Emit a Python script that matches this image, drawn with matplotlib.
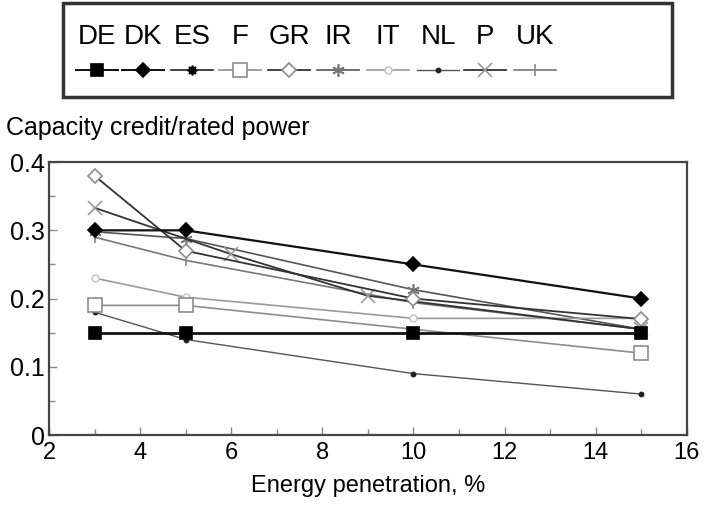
import matplotlib
matplotlib.use("Agg")
import matplotlib.pyplot as plt
from matplotlib.patches import Rectangle

plt.rcParams['font.family'] = ['Liberation Sans', 'DejaVu Sans']

# capacity credit vs energy penetration per country
countries = ['DE', 'DK', 'ES', 'F', 'GR', 'IR', 'IT', 'NL', 'P', 'UK']

de_x = [3, 5, 10, 15]
de_y = [0.15, 0.15, 0.15, 0.15]
dk_x = [3, 5, 10, 15]
dk_y = [0.30, 0.30, 0.25, 0.20]
es_x = [3]
es_y = [0.30]
f_x = [3, 5, 15]
f_y = [0.19, 0.19, 0.12]
gr_x = [3, 5, 10, 15]
gr_y = [0.38, 0.27, 0.20, 0.17]
ir_x = [3, 5, 10, 15]
ir_y = [0.298, 0.288, 0.213, 0.155]
it_x = [3, 5, 10, 15]
it_y = [0.23, 0.202, 0.171, 0.171]
nl_x = [3, 5, 10, 15]
nl_y = [0.18, 0.14, 0.09, 0.06]
p_x = [3, 6, 9, 15]
p_y = [0.333, 0.265, 0.204, 0.155]
uk_x = [3, 5, 10, 15]
uk_y = [0.29, 0.256, 0.194, 0.155]

# style per series: (color, lw, marker, ms, mfc, mec)
styles = {
    'DE': ('#111111', 2.0, 's', 9, '#000000', '#000000'),
    'DK': ('#111111', 1.6, 'D', 7, '#000000', '#000000'),
    'ES': ('#222222', 1.2, (8, 1, 0), 7, '#000000', '#000000'),
    'F':  ('#8c8c8c', 1.2, 's', 10, 'white', '#8c8c8c'),
    'GR': ('#333333', 1.3, 'D', 7.5, 'white', '#8c8c8c'),
    'IR': ('#555555', 1.2, (6, 2, 0), 9, '#777777', '#777777'),
    'IT': ('#9a9a9a', 1.2, 'o', 5, 'white', '#c8c8c8'),
    'NL': ('#555555', 1.0, 'o', 3, '#222222', '#222222'),
    'P':  ('#333333', 1.3, 'x', 10, '#999999', '#999999'),
    'UK': ('#777777', 1.2, '|', 8, '#888888', '#888888'),
}

series = {
    'DE': (de_x, de_y), 'DK': (dk_x, dk_y), 'ES': (es_x, es_y),
    'F': (f_x, f_y), 'GR': (gr_x, gr_y), 'IR': (ir_x, ir_y),
    'IT': (it_x, it_y), 'NL': (nl_x, nl_y), 'P': (p_x, p_y),
    'UK': (uk_x, uk_y),
}

fig = plt.figure(figsize=(7.04, 5.13), dpi=100)
ax = fig.add_axes([0.0696, 0.152, 0.906, 0.532])

draw_order = ['ES', 'UK', 'IR', 'IT', 'NL', 'F', 'P', 'GR', 'DE', 'DK']
for name in draw_order:
    xs, ys = series[name]
    c, lw, m, ms, mfc, mec = styles[name]
    ax.plot(xs, ys, color=c, lw=lw, marker=m, ms=ms, mfc=mfc, mec=mec, mew=1.2)

ax.set_xlim(2, 16)
ax.set_ylim(0, 0.4)
ax.set_xticks(range(2, 17, 2))
ax.set_xticks(range(3, 16, 2), minor=True)
ax.set_yticks([0, 0.1, 0.2, 0.3, 0.4])
ax.set_yticklabels(['0', '0.1', '0.2', '0.3', '0.4'])
ax.set_yticks([0.05, 0.15, 0.25, 0.35], minor=True)
ax.tick_params(which='both', direction='in', color='#888888')
ax.tick_params(axis='y', labelsize=18, pad=3)
ax.tick_params(axis='x', labelsize=17, pad=5)
ax.tick_params(which='major', length=6, width=1)
ax.tick_params(which='minor', length=4, width=1)
for sp in ax.spines.values():
    sp.set_color('#444444')
    sp.set_linewidth(1.6)

ax.set_xlabel('Energy penetration, %', fontsize=17, labelpad=8)
fig.text(6 / 704, 1 - 128 / 513, 'Capacity credit/rated power', fontsize=18,
         va='center', ha='left')

# legend box: label above a short sample of each line
lax = fig.add_axes([63 / 704, 1 - 97 / 513, 609 / 704, 94 / 513])
lax.set_xlim(63, 672)
lax.set_ylim(97, 3)
lax.axis('off')
lax.add_patch(Rectangle((63, 3), 609, 94, fill=False, ec='#333333', lw=2.5,
                        clip_on=False))
centers = [97, 143, 192, 240, 289, 338, 388, 438, 485, 535]
for name, cx in zip(countries, centers):
    c, lw, m, ms, mfc, mec = styles[name]
    lax.plot([cx - 21, cx + 21], [70, 70], color=c, lw=min(lw, 1.4))
    lax.plot([cx], [70], marker=m, ms=ms, mfc=mfc, mec=mec, mew=1.2,
             color=c, linestyle='none')
    lax.text(cx, 37, name, fontsize=20, ha='center', va='center')

fig.savefig('out.png', dpi=100)
